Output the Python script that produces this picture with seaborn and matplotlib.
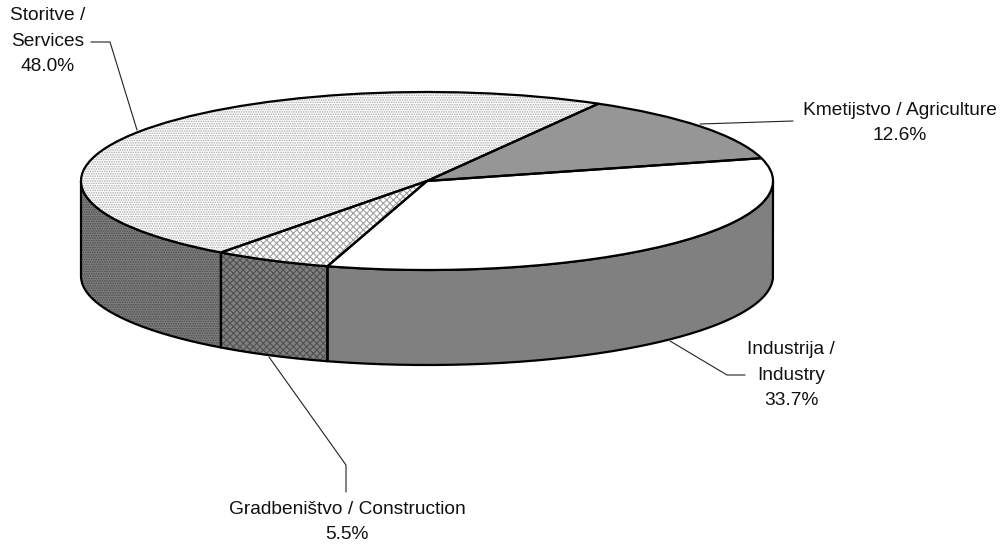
# % Import libraries
import matplotlib.pyplot as plt
import numpy as np
import pandas as pd
import seaborn as sns

# % Set variables
categories = ["Kmetijstvo / Agriculture", "Industrija /\nIndustry", "Gradbeništvo / Construction", "Storitve /\nServices"]
shares = [12.6, 33.7, 5.5, 48.0]
share_labels = ["12.6%", "33.7%", "5.5%", "48.0%"]
top_colors = ["#969696", "#ffffff", "#ffffff", "#ffffff"]
top_hatch_colors = ["#969696", "#ffffff", "#a0a0a0", "#a8a8a8"]
top_hatches = ["", "", "xxxxx", "......."]
side_colors = ["#808080", "#808080", "#808080", "#808080"]
side_hatch_colors = ["#808080", "#808080", "#505050", "#484848"]
side_hatches = ["", "", "xxxxx", "......."]

# pixel geometry of the tilted pie
WIDTH, HEIGHT = 1006, 548
CX, CY, RX, RY, DEPTH = 427, 181, 346, 89, 95
START_ANGLE = 60.3


def px(x, y):
    return (np.asarray(x) - CX) / RX, (CY - np.asarray(y)) / RY


sns.set_theme(style="white")
plt.rcParams["font.family"] = ["Liberation Sans", "DejaVu Sans"]
plt.rcParams["hatch.linewidth"] = 0.8

fig = plt.figure(figsize=(WIDTH / 100, HEIGHT / 100), dpi=100)
ax = fig.add_axes([0, 0, 1, 1])

# % Top face, hatches first and black edges above them
wedges, _ = ax.pie(shares, colors=top_colors, startangle=START_ANGLE, counterclock=False,
                   wedgeprops={"linewidth": 0, "zorder": 3})
for wedge, hatch, hatch_color in zip(wedges, top_hatches, top_hatch_colors):
    wedge.set(hatch=hatch, edgecolor=hatch_color, linewidth=0)
ax.pie(shares, colors=["none"] * 4, startangle=START_ANGLE, counterclock=False,
       wedgeprops={"linewidth": 1.6, "edgecolor": "black", "zorder": 4})

# % Side wall from the same wedge angles
depth = DEPTH / RY
for wedge, color, hatch, hatch_color in zip(wedges, side_colors, side_hatches, side_hatch_colors):
    theta = np.radians(np.linspace(wedge.theta1, wedge.theta2, 300))
    theta = theta[np.sin(theta) <= 0]
    if len(theta) == 0:
        continue
    x, y = np.cos(theta), np.sin(theta)
    ax.fill_between(x, y, y - depth, facecolor=color, hatch=hatch, edgecolor=hatch_color, linewidth=0, zorder=1)
    outline = pd.DataFrame({"x": np.r_[x, x[::-1], x[0]], "y": np.r_[y, (y - depth)[::-1], y[0]]})
    sns.lineplot(data=outline, x="x", y="y", sort=False, estimator=None, color="black", linewidth=1.6, zorder=2, ax=ax)

# % Leader lines
leaders = [
    ([700, 793], [124, 121]),
    ([670, 727, 745], [341, 375, 375]),
    ([269, 346, 346], [357, 465, 492]),
    ([137, 110, 91], [130, 42, 42]),
]
for line_x, line_y in leaders:
    x, y = px(line_x, line_y)
    sns.lineplot(x=x, y=y, sort=False, estimator=None, color="#222222", linewidth=0.8, zorder=0, ax=ax)

# % Labels
label_pos = [(900, 123), (791, 375), (347, 522), (48, 41)]
for cat, lab, (lx, ly) in zip(categories, share_labels, label_pos):
    ax.text(lx / WIDTH, 1 - ly / HEIGHT, f"{cat}\n{lab}", transform=ax.transAxes, ha="center", va="center",
            fontsize=13.8, color="#111111", linespacing=1.66)

ax.set_aspect("auto")
x0, x1 = px([0, WIDTH], [0, 0])[0]
y0, y1 = px([0, 0], [HEIGHT, 0])[1]
ax.set_xlim(x0, x1)
ax.set_ylim(y0, y1)
ax.set_xlabel("")
ax.set_ylabel("")
ax.axis("off")

plt.savefig("out.png", dpi=100)
